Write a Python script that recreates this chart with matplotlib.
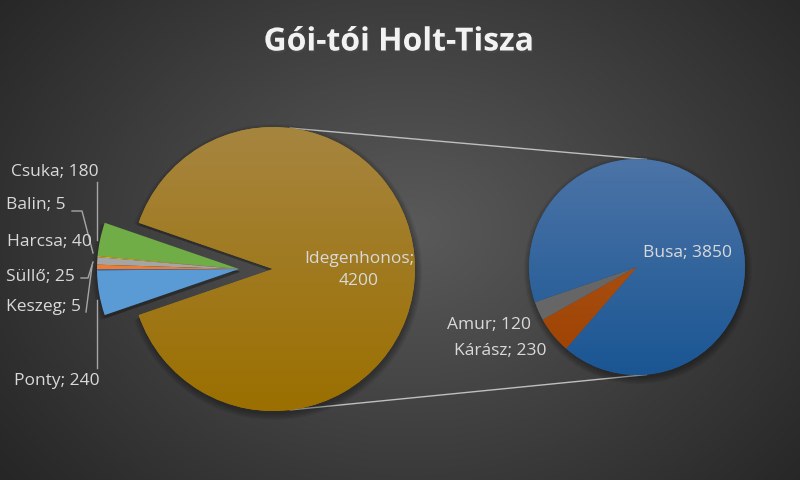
import numpy as np
import matplotlib
matplotlib.use("Agg")
import matplotlib.pyplot as plt
import matplotlib.patheffects as pe
from matplotlib.patches import Wedge
from matplotlib.colors import LinearSegmentedColormap

plt.rcParams['font.family'] = ['Open Sans', 'DejaVu Sans']

# fő kördiagram
main_labels = ['Csuka', 'Balin', 'Harcsa', 'Süllő', 'Keszeg', 'Ponty', 'Idegenhonos']
main_values = [180, 5, 40, 25, 5, 240, 4200]
main_colors = ['#70AD47', '#FFC000', '#A5A5A5', '#ED7D31', '#4472C4', '#5B9BD5', '#9E7812']

# másodlagos kör (Idegenhonos bontása)
sub_labels = ['Busa', 'Kárász', 'Amur']
sub_values = [3850, 230, 120]
sub_colors = ['#21599A', '#A24A10', '#666666']

W, H = 800, 480
fig = plt.figure(figsize=(8, 4.8), dpi=100)
ax = fig.add_axes([0, 0, 1, 1])

# háttér: sugaras átmenet
yy, xx = np.mgrid[0:H, 0:W]
d = np.clip(np.sqrt(((xx - 410) / 520.0) ** 2 + ((yy - 250) / 400.0) ** 2), 0, 1)
bg = LinearSegmentedColormap.from_list('bg', ['#5a5a5a', '#262626'])
ax.imshow(d, cmap=bg, origin='lower', extent=(0, W, 0, H), zorder=0, aspect='auto')

main_c = (273, 211)
main_r = 142
small_c = (239, 211)
sub_c = (637, 213)
sub_r = 108

wedges, _ = ax.pie(main_values, colors=main_colors, startangle=161, counterclock=True,
                   center=main_c, radius=main_r, frame=True,
                   wedgeprops=dict(linewidth=0, zorder=3))
for w in wedges[:-1]:
    w.set_center(small_c)

swedges, _ = ax.pie(sub_values, colors=sub_colors, startangle=199, counterclock=False,
                    center=sub_c, radius=sub_r, frame=True,
                    wedgeprops=dict(linewidth=0, zorder=3))

# árnyék
def shadow(w):
    cx, cy = w.center
    for k in range(6):
        ax.add_patch(Wedge((cx + 1, cy - 3), w.r + k * 1.2, w.theta1, w.theta2,
                           facecolor='black', alpha=0.055, linewidth=0, zorder=2))

shadow(wedges[-1])
for w in wedges[:-1]:
    shadow(w)
for w in swedges:
    shadow(w)

# színátmenetes kitöltés
def gradient(w, top, bottom):
    cx, cy = w.center
    cm = LinearSegmentedColormap.from_list('g', [bottom, top])
    g = np.linspace(0, 1, 256).reshape(-1, 1)
    im = ax.imshow(g, cmap=cm, origin='lower', aspect='auto', zorder=4,
                   extent=(cx - w.r, cx + w.r, cy - w.r, cy + w.r))
    im.set_clip_path(w)

gradient(wedges[-1], '#A6853F', '#9B6F00')
gradient(swedges[0], '#4C74A7', '#1A5693')
gradient(swedges[1], '#B25A22', '#9C4100')

# összekötő vonalak
a1 = np.deg2rad(83)
b1 = np.deg2rad(85)
for s in (1, -1):
    ax.plot([main_c[0] + main_r * np.cos(a1), sub_c[0] + sub_r * np.cos(b1)],
            [main_c[1] + s * main_r * np.sin(a1), sub_c[1] + s * sub_r * np.sin(b1)],
            color='#BFBFBF', lw=1, zorder=1.5)

lab = dict(color='#D9D9D9', fontsize=12.5, zorder=6)

def py(y):
    return H - y

# címkék a fő kör bal oldalán
ax.text(99, py(172), f'{main_labels[0]}; {main_values[0]}', ha='right', va='center', **lab)
ax.text(66, py(205), f'{main_labels[1]}; {main_values[1]}', ha='right', va='center', **lab)
ax.text(92, py(242), f'{main_labels[2]}; {main_values[2]}', ha='right', va='center', **lab)
ax.text(75, py(277), f'{main_labels[3]}; {main_values[3]}', ha='right', va='center', **lab)
ax.text(81, py(307), f'{main_labels[4]}; {main_values[4]}', ha='right', va='center', **lab)
ax.text(100, py(381), f'{main_labels[5]}; {main_values[5]}', ha='right', va='center', **lab)
ax.text(359, py(270), f'{main_labels[6]};\n{main_values[6]}', ha='center', va='center',
        linespacing=1.45, **lab)

ln = dict(color='#A6A6A6', lw=1, zorder=5)
ax.plot([97, 97], [py(182), py(240)], **ln)
ax.plot([72, 82, 93], [py(211), py(211), py(253)], **ln)
ax.plot([81, 88, 93], [py(278), py(278), py(262)], **ln)
ax.plot([86, 92], [py(312), py(266)], **ln)
ax.plot([97, 97], [py(368), py(300)], **ln)

# másodlagos kör címkéi
ax.text(643, py(253), f'{sub_labels[0]}; {sub_values[0]}', ha='left', va='center', **lab)
ax.text(531, py(325), f'{sub_labels[2]}; {sub_values[2]}', ha='right', va='center', **lab)
ax.text(547, py(351), f'{sub_labels[1]}; {sub_values[1]}', ha='right', va='center', **lab)

ax.text(399, py(42), 'Gói-tói Holt-Tisza', ha='center', va='center', fontsize=23,
        weight='bold', color='#F2F2F2', zorder=6,
        path_effects=[pe.withSimplePatchShadow(offset=(1, -1.5), alpha=0.7)])

ax.set_xlim(0, W)
ax.set_ylim(0, H)
ax.axis('off')
fig.savefig('out.png', dpi=100)
